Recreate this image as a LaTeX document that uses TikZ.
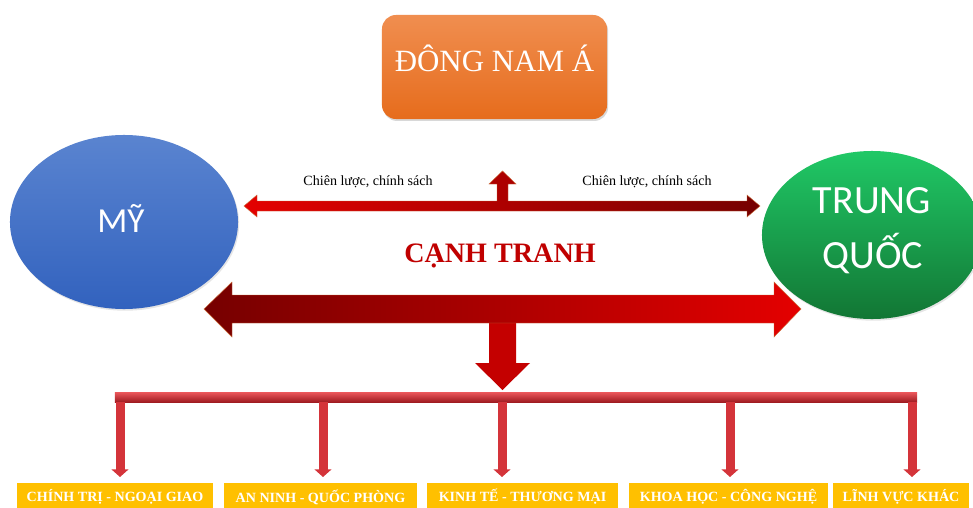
\documentclass[tikz,border=0pt]{standalone}
\usepackage{fontspec}
\setmainfont{Liberation Serif}
\newfontfamily\calfont{Carlito}
\usetikzlibrary{arrows.meta,positioning,shadows,shapes.geometric}

\begin{document}
\begin{tikzpicture}[x=0.025cm,y=-0.025cm,
    topicbox/.style={rounded corners=0.35cm, minimum width=5.625cm, minimum height=2.6cm,
      top color=r240g142b80, bottom color=r230g108b28,
      drop shadow={opacity=0.3,shadow xshift=0.8pt,shadow yshift=-1.4pt}},
    sideblob/.style={ellipse, inner sep=0pt,
      drop shadow={opacity=0.2,shadow xshift=0.8pt,shadow yshift=-1.2pt}},
    bigtext/.style={anchor=base, text=white},
    fieldbox/.style={fill=r255g192b0, text=white, minimum height=0.7cm, inner sep=0pt,
      font=\bfseries\fontsize{10}{12}\selectfont},
    stemline/.style={draw=r212g52b58, line width=6.4pt, -{Triangle[width=12pt,length=5.5pt]}}]
  \clip (0,0) rectangle (973,507);
  \fill[white] (0,0) rectangle (973,507);

  % Colours
  \definecolor{r240g142b80}{RGB}{240,142,80}%
  \definecolor{r230g108b28}{RGB}{230,108,28}%
  \definecolor{r90g132b208}{RGB}{90,132,208}%
  \definecolor{r50g98b190}{RGB}{50,98,190}%
  \definecolor{r32g200b102}{RGB}{32,200,102}%
  \definecolor{r18g118b52}{RGB}{18,118,52}%
  \definecolor{r228g0b0}{RGB}{228,0,0}%
  \definecolor{r118g0b0}{RGB}{118,0,0}%
  \definecolor{r196g0b0}{RGB}{196,0,0}%
  \definecolor{r205g110b60}{RGB}{205,110,60}%
  \definecolor{r192g0b0}{RGB}{192,0,0}%
  \definecolor{r255g192b0}{RGB}{255,192,0}%
  \definecolor{r212g52b58}{RGB}{212,52,58}%
  \definecolor{r236g88b92}{RGB}{236,88,92}%
  \definecolor{r160g28b34}{RGB}{160,28,34}%

  % Drawing box Dong Nam A
  \node[topicbox] (dna) at (494.5,67) {};
  \node[bigtext, font=\fontsize{22}{26}\selectfont] (dnatext) at (494.5,71) {ĐÔNG NAM Á};

  % Drawing ellipse My
  \node[sideblob, minimum width=5.7cm, minimum height=4.35cm,
    top color=r90g132b208, bottom color=r50g98b190] (my) at (124,222) {};
  \node[bigtext, font=\calfont\fontsize{25}{30}\selectfont] (mytext) at (121,232) {MỸ};

  % Drawing ellipse Trung Quoc
  \node[sideblob, minimum width=5.5cm, minimum height=4.2cm,
    top color=r32g200b102, bottom color=r18g118b52] (tq) at (872,235) {};
  \node[bigtext, font=\calfont\fontsize{28.5}{34}\selectfont] (tqtop) at (872,213) {TRUNG};
  \node[bigtext, font=\calfont\fontsize{28.5}{34}\selectfont] (tqbot) at (873,268) {QUỐC};

  % Drawing thin double arrow with arrow up
  \shade[left color=r228g0b0, right color=r118g0b0, draw=r205g110b60, line width=0.3pt]
    (244,206) -- (257,195) -- (257,201) -- (497,201) -- (497,184) -- (489,184) -- (502.5,171)
    -- (516,184) -- (508,184) -- (508,201) -- (747,201) -- (747,195) -- (760,206)
    -- (747,217) -- (747,211) -- (257,211) -- (257,217) -- cycle;

  % Marking labels
  \node[anchor=base, font=\fontsize{10}{12}\selectfont] (clleft) at (368,185) {Chiên lược, chính sách};
  \node[anchor=base, font=\fontsize{10}{12}\selectfont] (clright) at (647,185) {Chiên lược, chính sách};
  \node[anchor=base, text=r192g0b0, font=\bfseries\fontsize{20}{24}\selectfont] (ct) at (500,262) {CẠNH TRANH};

  % Drawing arrow down
  \fill[r196g0b0] (516,318) -- (516,363) -- (530,363) -- (502.5,390) -- (475,363)
    -- (489,363) -- (489,318) -- cycle;

  % Drawing big double arrow
  \shade[left color=r118g0b0, right color=r228g0b0, draw=r205g110b60, line width=0.3pt]
    (204,309) -- (232,282) -- (232,295) -- (774,295) -- (774,282) -- (801,309) -- (774,337)
    -- (774,323) -- (232,323) -- (232,337) -- cycle;

  % Drawing bar and stems
  \node[minimum width=20.05cm, minimum height=0.25cm, inner sep=0pt,
    top color=r236g88b92, bottom color=r160g28b34] (bar) at (516,397) {};
  \foreach \sx in {120,323,502,730,912}
    \draw[stemline] (bar.south -| \sx,0) -- (\sx,477);

  % Drawing fields
  \node[fieldbox, minimum width=4.9cm] (f1) at (115,497) {CHÍNH TRỊ - NGOẠI GIAO};
  \node[fieldbox, minimum width=4.825cm] (f2) at (320.5,497) {AN NINH - QUỐC PHÒNG};
  \node[fieldbox, minimum width=4.775cm] (f3) at (522.5,497) {KINH TẾ - THƯƠNG MẠI};
  \node[fieldbox, minimum width=4.975cm] (f4) at (728.5,497) {KHOA HỌC - CÔNG NGHỆ};
  \node[fieldbox, minimum width=3.4cm] (f5) at (901,497) {LĨNH VỰC KHÁC};
\end{tikzpicture}
\end{document}
